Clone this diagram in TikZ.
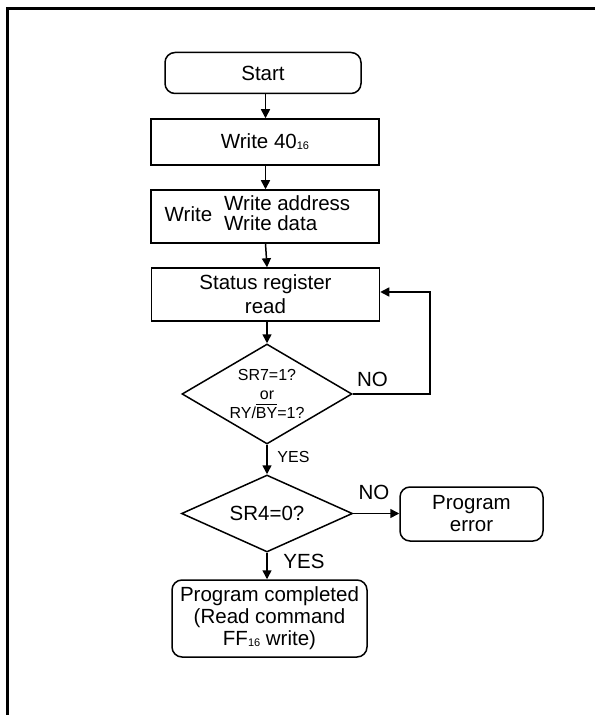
\documentclass[tikz,border=0pt]{standalone}
\usepackage{fontspec}
\setmainfont{Liberation Sans}
\usetikzlibrary{arrows.meta,positioning,shapes.geometric}
\newcommand\hexsub[1]{{\fontsize{5.5}{6}\selectfont\raisebox{-0.4pt}{#1}}}
\tikzset{
  >={Triangle[length=4.5pt,width=4.5pt]},
  every node/.style={font=\fontsize{10.25}{11}\selectfont},
  flow/.style={line width=0.75pt,->},
  proc/.style={draw,line width=0.75pt,minimum width=114pt,align=center,inner sep=0pt},
  term/.style={draw,line width=0.75pt,rounded corners=5pt,align=center,inner sep=0pt},
  test/.style={diamond,draw,line width=0.75pt,inner sep=0pt},
  small/.style={font=\fontsize{8}{9.5}\selectfont},
}
\begin{document}
\begin{tikzpicture}[x=0.5pt,y=-0.5pt]
  \useasboundingbox (0,0) rectangle (595,715);
  % frame
  \draw[line width=1.2pt] (7.5,715) -- (7.5,8.5) -- (595,8.5);
  % boxes
  \node[term,minimum width=98pt,minimum height=20.5pt] (start) at (263,73) {Start};
  \node[proc,minimum height=23pt] (w40) at (265,142) {Write 40\hexsub{16}};
  \node[proc,minimum height=26.5pt] (wad) at (265,216.5) {Write\hspace{6pt}\begin{tabular}{@{}l@{}}Write address\\[-1pt]Write data\end{tabular}\hspace*{7.5pt}};
  \node[proc,minimum height=26.5pt] (srd) at (265.5,294.5) {Status register\\[1pt]read};
  \node[test,minimum width=85pt,minimum height=50pt,
        label={[small,align=center]center:{SR7=1?\\or\\RY/$\overline{\mbox{BY}}$=1?}}] (sr7) at (267,394) {};
  \node[test,minimum width=85.5pt,minimum height=38.5pt,label={center:{SR4=0?}}] (sr4) at (267,513.5) {};
  \node[term,minimum width=71.5pt,minimum height=27pt] (err) at (471.5,514) {Program\\error};
  \node[term,minimum width=97.5pt,minimum height=38.5pt] (done) at (269.5,618.5)
    {Program completed\\(Read command\\FF\hexsub{16} write)};
  \coordinate (loop) at (430,292);
  % connectors
  \draw[flow] (start.south -| srd) -- (w40.north -| srd);
  \draw[flow] (w40.south -| srd) -- (wad.north -| srd);
  \draw[flow] (wad.south -| srd) -- (srd.north -| sr7);
  \draw[flow] (srd.south -| sr7) -- (sr7.north);
  \draw[flow] (sr7.east) -| (loop) -- (srd.east |- loop);
  \draw[flow] (sr7.south) -- (sr4.north);
  \draw[flow] (sr4.east) -- (err.west |- sr4.east);
  \draw[flow] (sr4.south) -- (done.north -| sr4);
  % labels
  \node[anchor=south west,inner sep=0pt] at ([xshift=2pt,yshift=3.5pt]sr7.east) {NO};
  \node[small,anchor=north west,inner sep=0pt] at ([xshift=5pt,yshift=-3pt]sr7.south) {YES};
  \node[anchor=south west,inner sep=0pt] at ([xshift=2.5pt,yshift=6.5pt]sr4.east) {NO};
  \node[anchor=north west,inner sep=0pt] at ([xshift=8pt,yshift=-0.5pt]sr4.south) {YES};
\end{tikzpicture}
\end{document}
